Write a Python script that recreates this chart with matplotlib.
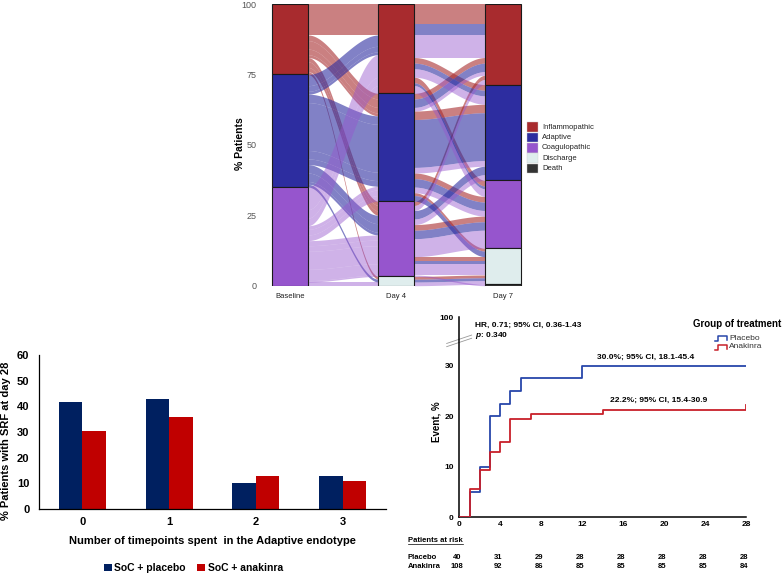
import numpy as np
import matplotlib
matplotlib.use('Agg')
import matplotlib.pyplot as plt
from matplotlib.patches import Rectangle
from matplotlib.lines import Line2D
from matplotlib.transforms import blended_transform_factory

plt.rcParams['font.family'] = ['Liberation Sans', 'DejaVu Sans']
plt.rcParams['mathtext.fontset'] = 'custom'
plt.rcParams['mathtext.it'] = 'Liberation Sans:italic:bold'
plt.rcParams['mathtext.rm'] = 'Liberation Sans:bold'

# ---------------- data ----------------
# alluvial: endotype classes and patient paths (baseline, day 4, day 7, % patients)
classes = ['Inflammopathic', 'Adaptive', 'Coagulopathic', 'Discharge', 'Death']
timepoints = ['Baseline', 'Day 4', 'Day 7']
path_base = [0, 0, 0, 0, 0, 0, 0, 0, 0, 0, 0,
             1, 1, 1, 1, 1, 1, 1, 1, 1, 1, 1,
             2, 2, 2, 2, 2, 2, 2, 2, 2, 2, 2, 2]
path_day4 = [0, 0, 0, 1, 1, 1, 1, 2, 2, 2, 3,
             0, 0, 0, 1, 1, 1, 1, 2, 2, 2, 3,
             0, 0, 0, 1, 1, 1, 2, 2, 2, 2, 3, 2]
path_day7 = [0, 1, 2, 1, 0, 2, 3, 2, 3, 0, 3,
             0, 1, 2, 1, 0, 2, 3, 2, 1, 3, 3,
             0, 1, 2, 1, 2, 0, 2, 1, 3, 0, 3, 4]
path_pct = [7, 2, 2, 3, 2, 2, 1, 2, 1.5, 1.5, 1,
            4, 2, 1, 17, 3, 3, 2, 3, 3, 1, 1,
            8, 3, 2.7, 2, 2, 1.3, 6.4, 2, 4, 1.8, 1.3, 0.5]

# bar chart: % patients with SRF at day 28
n_timepoints = ['0', '1', '2', '3']
srf_placebo = [41.6, 42.8, 10.1, 12.7]
srf_anakinra = [30.5, 35.8, 13.0, 11.0]

# cumulative event curves
km_t_placebo = [0, 1, 2, 3, 4, 5, 6, 12, 28]
km_placebo = [0, 5.0, 10.0, 20.0, 22.5, 25.0, 27.5, 30.0, 30.0]
km_t_anakinra = [0, 1, 2, 3, 4, 5, 7, 14, 28]
km_anakinra = [0, 5.56, 9.26, 12.96, 14.8, 19.4, 20.4, 21.3, 22.2]
risk_times = [0, 4, 8, 12, 16, 20, 24, 28]
risk_placebo = [40, 31, 29, 28, 28, 28, 28, 28]
risk_anakinra = [108, 92, 86, 85, 85, 85, 85, 84]

# ---------------- styling ----------------
class_colors = ['#A82B2E', '#2D2DA0', '#9655CD', '#DFEDED', '#333333']
flow_alpha = [0.6, 0.6, 0.45, 0.5, 0.5]
c_placebo_bar = '#002060'
c_anakinra_bar = '#C00000'
c_km_placebo = '#2846AA'
c_km_anakinra = '#C8202A'

W, H = 783, 576
fig = plt.figure(figsize=(W / 100, H / 100), dpi=100)


def px_axes(l, t, r, b):
    return fig.add_axes([l / W, 1 - b / H, (r - l) / W, (b - t) / H])


# ---------------- alluvial plot ----------------
ax1 = px_axes(262, 4, 530, 285.7)
col_x = [1, 2, 3]
col_w = 0.338
cls = np.array([path_base, path_day4, path_day7])
pct = np.array(path_pct, dtype=float)
n_paths = len(pct)


def lode_positions(axis_i, other_i, rest_i):
    order = sorted(range(n_paths), key=lambda k: (cls[axis_i][k], cls[other_i][k], cls[rest_i][k]))
    top = np.zeros(n_paths)
    y = 100.0
    for k in order:
        top[k] = y
        y -= pct[k]
    return top


def ribbon(x0, x1, t0, b0, t1, b1, color, alpha):
    s = np.linspace(0, 1, 60)
    w = 3 * s ** 2 - 2 * s ** 3
    xs = x0 + (x1 - x0) * s
    ax1.fill_between(xs, b0 + (b1 - b0) * w, t0 + (t1 - t0) * w,
                     color=color, alpha=alpha, lw=0, zorder=1)


for seg in range(2):
    rest = 2 if seg == 0 else 0
    left_top = lode_positions(seg, seg + 1, rest)
    right_top = lode_positions(seg + 1, seg, rest)
    for k in range(n_paths):
        b = path_base[k]
        ribbon(col_x[seg] + col_w / 2, col_x[seg + 1] - col_w / 2,
               left_top[k], left_top[k] - pct[k],
               right_top[k], right_top[k] - pct[k],
               class_colors[b], flow_alpha[b])

for a in range(3):
    y = 100.0
    for c in range(len(classes)):
        h = pct[cls[a] == c].sum()
        if h <= 0:
            continue
        ax1.add_patch(Rectangle((col_x[a] - col_w / 2, y - h), col_w, h,
                                facecolor=class_colors[c], edgecolor='#1a1a1a',
                                lw=0.8, zorder=3))
        y -= h

ax1.set_xlim(0.737, 3.254)
ax1.set_ylim(0, 100)
for sp in ax1.spines.values():
    sp.set_visible(False)
ax1.set_yticks([0, 25, 50, 75, 100])
ax1.set_xticks(col_x)
ax1.set_xticklabels(timepoints, fontsize=5.5, color='#222222')
ax1.tick_params(axis='y', length=0, labelsize=6.5, labelcolor='#555555', pad=4)
ax1.tick_params(axis='x', length=0, pad=5)
fig.text(240 / W, 1 - 144 / H, '% Patients', rotation=90, ha='center', va='center',
         fontsize=7.5, fontweight='bold')

# legend of endotypes
for i, (name, col) in enumerate(zip(classes, class_colors)):
    ytop = 122.3 + i * 10.3
    fig.add_artist(Rectangle((527 / W, 1 - (ytop + 9.8) / H), 11 / W, 9.8 / H,
                             facecolor=col, edgecolor='#cccccc', lw=0.3,
                             transform=fig.transFigure))
    fig.text(542 / W, 1 - (ytop + 5) / H, name, fontsize=5.5, va='center', color='#222222')

# ---------------- bar chart ----------------
ax2 = px_axes(39, 355, 386, 509)
xb = np.arange(len(n_timepoints))
bw = 0.27
ax2.bar(xb - bw / 2, srf_placebo, bw, color=c_placebo_bar, label='SoC + placebo')
ax2.bar(xb + bw / 2, srf_anakinra, bw, color=c_anakinra_bar, label='SoC + anakinra')
ax2.set_xlim(-0.5, 3.5)
ax2.set_ylim(0, 60)
ax2.set_yticks(range(0, 61, 10))
ax2.set_xticks(xb)
ax2.set_xticklabels(n_timepoints)
for sp in ['top', 'right']:
    ax2.spines[sp].set_visible(False)
for sp in ['left', 'bottom']:
    ax2.spines[sp].set_linewidth(0.9)
ax2.tick_params(axis='y', length=0, pad=7, labelsize=8)
ax2.tick_params(axis='x', length=0, pad=6, labelsize=8)
for lab in ax2.get_xticklabels() + ax2.get_yticklabels():
    lab.set_fontweight('bold')
fig.text(212 / W, 1 - 541 / H, 'Number of timepoints spent  in the Adaptive endotype',
         ha='center', va='center', fontsize=8, fontweight='bold')
fig.text(6 / W, 1 - 440.5 / H, '% Patients with SRF at day 28', rotation=90,
         ha='center', va='center', fontsize=8, fontweight='bold')
ax2.legend(loc='center', bbox_to_anchor=(193.5 / W, 1 - 568 / H), bbox_transform=fig.transFigure,
           ncol=2, frameon=False, prop={'size': 7.5, 'weight': 'bold'},
           handlelength=0.75, handleheight=0.75, handletextpad=0.25, columnspacing=1.1,
           borderpad=0, borderaxespad=0)

# ---------------- cumulative event plot ----------------
ax3 = px_axes(459.3, 317.3, 746, 517)
ytop = 39.6
ax3.step(km_t_placebo, km_placebo, where='post', color=c_km_placebo, lw=1.3, zorder=3)
ax3.step(km_t_anakinra, km_anakinra, where='post', color=c_km_anakinra, lw=1.3, zorder=4)
ax3.set_xlim(0, 28)
ax3.set_ylim(0, ytop)
ax3.set_xticks(risk_times)
ax3.set_yticks([0, 10, 20, 30, ytop])
ax3.set_yticklabels(['0', '10', '20', '30', '100'])
for sp in ['top', 'right']:
    ax3.spines[sp].set_visible(False)
for sp in ['left', 'bottom']:
    ax3.spines[sp].set_linewidth(1.1)
ax3.tick_params(axis='both', length=0, labelsize=6)
ax3.tick_params(axis='y', pad=4)
ax3.tick_params(axis='x', pad=3)
for lab in ax3.get_xticklabels() + ax3.get_yticklabels():
    lab.set_fontweight('bold')
# axis break marks
for off in (0.0, 0.016):
    ax3.plot([-0.044, 0.043], [0.853 + off, 0.895 + off], transform=ax3.transAxes,
             color='#999999', lw=0.6, clip_on=False)
fig.text(436.7 / W, 1 - 421.7 / H, 'Event, %', rotation=90, ha='center', va='center',
         fontsize=7, fontweight='bold')

ax3.text(1.5, 38.1, 'HR, 0.71; 95% CI, 0.36-1.43', fontsize=6, fontweight='bold', va='center')
ax3.text(1.5, 35.9, r'$\it{p}$: 0.340', fontsize=6, fontweight='bold', va='center')
ax3.text(13.45, 31.7, '30.0%; 95% CI, 18.1-45.4', fontsize=6, fontweight='bold', va='center')
ax3.text(14.7, 23.2, '22.2%; 95% CI, 15.4-30.9', fontsize=6, fontweight='bold', va='center')

# legend for treatment groups
fig.text(693 / W, 1 - 324 / H, 'Group of treatment', fontsize=7, fontweight='bold', va='center')
for i, (name, col) in enumerate([('Placebo', c_km_placebo), ('Anakinra', c_km_anakinra)]):
    yb = 341 + i * 9
    xs = np.array([715, 718, 718, 727, 727]) / W
    ys = 1 - np.array([yb, yb, yb - 5, yb - 5, yb - 1]) / H
    fig.add_artist(Line2D(xs, ys, color=col, lw=1.1, transform=fig.transFigure))
    fig.text(729 / W, 1 - (yb - 3) / H, name, fontsize=6, va='center', color='#333333')

# patients at risk table
trans = blended_transform_factory(ax3.transData, fig.transFigure)
t_risk = fig.text(408 / W, 1 - 540 / H, 'Patients at risk', fontsize=5.5, fontweight='bold', va='center')
fig.canvas.draw()
bb = t_risk.get_window_extent().transformed(fig.transFigure.inverted())
fig.add_artist(Line2D([bb.x0, bb.x1], [bb.y0 - 0.001, bb.y0 - 0.001], color='black', lw=0.5,
                      transform=fig.transFigure))
for name, vals, ypx in [('Placebo', risk_placebo, 557.7), ('Anakinra', risk_anakinra, 566.7)]:
    fig.text(408 / W, 1 - ypx / H, name, fontsize=5.5, fontweight='bold', va='center')
    for t, v in zip(risk_times, vals):
        ax3.text(t - 0.2, 1 - ypx / H, str(v), transform=trans, fontsize=5.5,
                 fontweight='bold', ha='center', va='center')

fig.savefig('out.png', dpi=100)
